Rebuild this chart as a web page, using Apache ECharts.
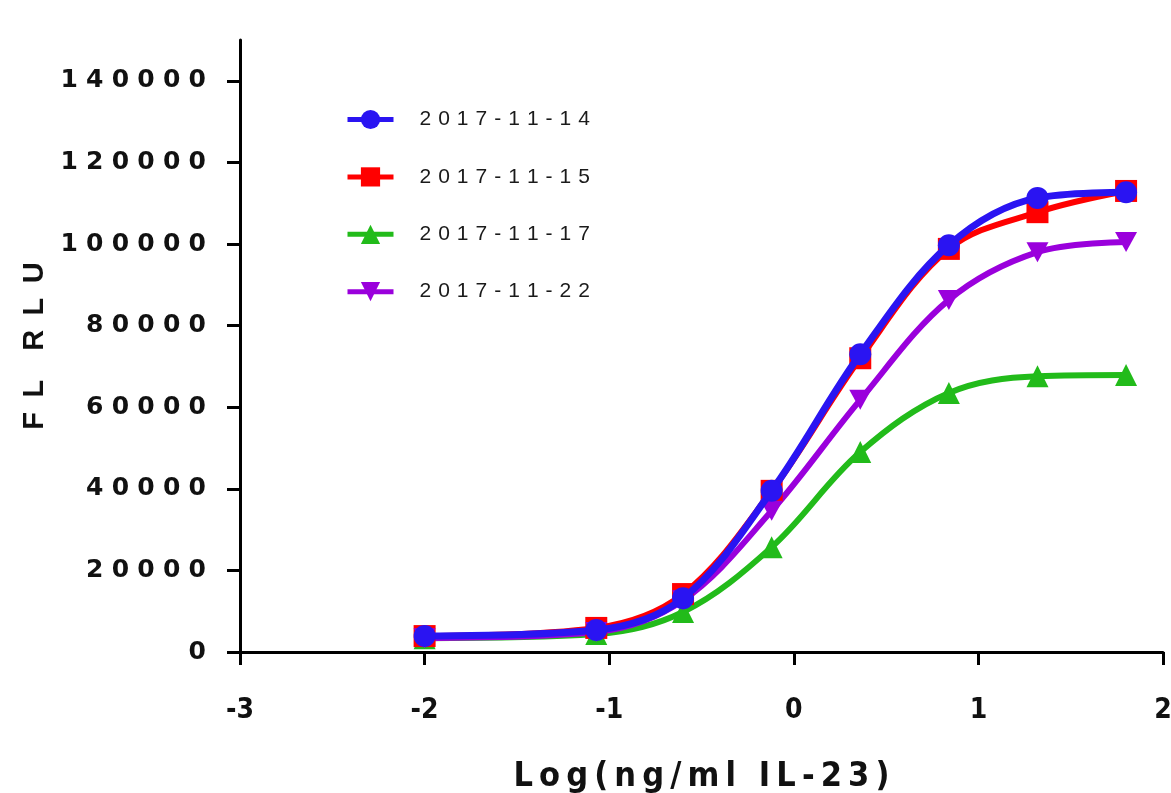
<!DOCTYPE html>
<html>
<head>
<meta charset="utf-8">
<script src="https://cdn.jsdelivr.net/npm/echarts@6/dist/echarts.min.js"></script>
<style>
  html, body { margin: 0; padding: 0; background: #fff; }
  #main { width: 1171px; height: 793px; }
</style>
</head>
<body>
<div id="main"></div>
<script>
const logConc = [-2, -1.07, -0.6, -0.12, 0.36, 0.84, 1.32, 1.8];
const names = ['2017-11-14', '2017-11-15', '2017-11-17', '2017-11-22'];
const rlu1114 = [3900, 5400, 13200, 39500, 73000, 99700, 111300, 112700];
const rlu1115 = [3900, 5900, 14200, 39500, 72000, 98800, 107800, 113000];
const rlu1117 = [3400, 4400, 9800, 25700, 49000, 63500, 67600, 67900];
const rlu1122 = [3400, 4900, 12700, 34600, 61800, 86300, 98000, 100500];
const yTicks = [0, 20000, 40000, 60000, 80000, 100000, 120000, 140000];
const xTicks = [-3, -2, -1, 0, 1, 2];

// spread letters out, the original uses wide tracking
function sp(s, gap) {
  return String(s).split('').join(gap);
}

const colors = ['#2a14f2', '#ff0000', '#22bb1a', '#9a00dc'];
const symbols = ['circle', 'rect', 'triangle', 'path://M0,0 L10,0 L5,9 Z'];
const allData = [rlu1114, rlu1115, rlu1117, rlu1122];
const condensed = '"DejaVu Sans Condensed", "Liberation Sans Narrow", "Liberation Sans", sans-serif';

const chart = echarts.init(document.getElementById('main'));

const series = names.map((n, i) => ({
  name: n,
  type: 'line',
  data: logConc.map((x, k) => [x, allData[i][k]]),
  smooth: 0.35,
  symbol: symbols[i],
  symbolSize: i === 3 ? [22, 20] : 22,
  showAllSymbol: true,
  lineStyle: {color: colors[i], width: i === 0 ? 7 : 6},
  itemStyle: {color: colors[i]},
  emphasis: {disabled: true},
  z: [4, 3, 2, 3][i]
}));

chart.setOption({
  animation: false,
  grid: {left: 240, right: 8, top: 40, bottom: 141, containLabel: false, outerBoundsMode: 'none'},
  legend: {
    orient: 'vertical',
    left: 340,
    top: 104,
    itemWidth: 46,
    itemHeight: 24,
    itemGap: 36.4,
    data: names,
    lineStyle: {width: 5},
    formatter: (n) => sp(n, '\u2004'),
    textStyle: {fontFamily: 'Liberation Sans', fontSize: 21, color: '#1a1a1a', padding: [0, 0, 0, 21]}
  },
  xAxis: {
    type: 'value',
    min: -3,
    max: 2,
    interval: 1,
    name: sp('Log(ng/ml IL-23)', '\u2009'),
    nameLocation: 'middle',
    nameGap: 108,
    nameTextStyle: {fontFamily: condensed, fontWeight: 'bold', fontSize: 34, color: '#111'},
    splitLine: {show: false},
    axisLine: {onZero: false, lineStyle: {color: '#000', width: 3}},
    axisTick: {length: 13, lineStyle: {width: 3, color: '#000'}},
    axisLabel: {
      margin: 45,
      fontFamily: condensed,
      fontWeight: 'bold',
      fontSize: 28,
      color: '#111',
      customValues: xTicks,
      formatter: (v) => String(v)
    }
  },
  yAxis: {
    type: 'value',
    min: 0,
    max: 150000,
    interval: 20000,
    name: 'F\u2002L\u2002\u2002R\u2002L\u2002U',
    nameLocation: 'middle',
    nameGap: 190,
    nameTextStyle: {fontFamily: 'Liberation Sans', fontWeight: 'bold', fontSize: 29, color: '#111'},
    splitLine: {show: false},
    axisLine: {show: true, onZero: false, lineStyle: {color: '#000', width: 3}},
    axisTick: {show: true, length: 13, lineStyle: {width: 3, color: '#000'}, customValues: yTicks},
    axisLabel: {
      margin: 34,
      fontFamily: 'DejaVu Sans',
      fontWeight: 'bold',
      fontSize: 25,
      color: '#111',
      customValues: yTicks,
      formatter: (v) => sp(v, '\u2004')
    }
  },
  series: series
});
</script>
</body>
</html>
